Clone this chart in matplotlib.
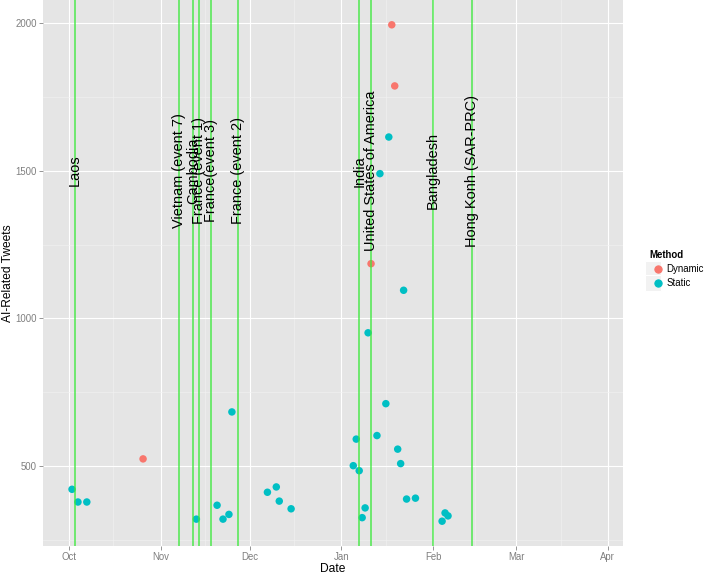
import matplotlib
matplotlib.use("Agg")
import matplotlib.pyplot as plt
import matplotlib.dates as mdates
from matplotlib.lines import Line2D
from matplotlib.legend_handler import HandlerTuple
import pandas as pd

# --------------------------------------------------------------- data

tweet_dates = [
    "2013-10-02", "2013-10-04", "2013-10-07", "2013-10-26", "2013-11-13",
    "2013-11-20", "2013-11-22", "2013-11-24", "2013-11-25", "2013-12-07",
    "2013-12-10", "2013-12-11", "2013-12-15", "2014-01-05", "2014-01-06",
    "2014-01-07", "2014-01-08", "2014-01-09", "2014-01-10", "2014-01-11",
    "2014-01-13", "2014-01-14", "2014-01-16", "2014-01-17", "2014-01-18",
    "2014-01-19", "2014-01-20", "2014-01-21", "2014-01-22", "2014-01-23",
    "2014-01-26", "2014-02-04", "2014-02-05", "2014-02-06",
]
tweet_counts = [
    421, 378, 378, 524, 320,
    367, 320, 336, 683, 411,
    429, 381, 355, 501, 591,
    484, 325, 358, 951, 1185,
    603, 1490, 711, 1614, 1994,
    1787, 557, 508, 1095, 388,
    391, 313, 341, 331,
]
tweet_method = [
    "Static", "Static", "Static", "Dynamic", "Static",
    "Static", "Static", "Static", "Static", "Static",
    "Static", "Static", "Static", "Static", "Static",
    "Static", "Static", "Static", "Static", "Dynamic",
    "Static", "Static", "Static", "Static", "Dynamic",
    "Dynamic", "Static", "Static", "Static", "Static",
    "Static", "Static", "Static", "Static",
]

event_dates = [
    "2013-10-03", "2013-11-07", "2013-11-12", "2013-11-14", "2013-11-18",
    "2013-11-27", "2014-01-07", "2014-01-11", "2014-02-01", "2014-02-14",
]
event_labels = [
    "Laos", "Vietnam (event 7)", "Cambodia", "France (event 1)",
    "France(event 3)", "France (event 2)", "India",
    "United States of America", "Bangladesh", "Hong Konh (SAR-PRC)",
]
label_y = 1500

methods = ["Dynamic", "Static"]
method_colors = {"Dynamic": "#F8766D", "Static": "#00BFC4"}

x_ticks = ["2013-10-01", "2013-11-01", "2013-12-01", "2014-01-01",
           "2014-02-01", "2014-03-01", "2014-04-01"]
x_minor = ["2013-10-16", "2013-11-16", "2013-12-16", "2014-01-16",
           "2014-02-15", "2014-03-16"]
y_ticks = [500, 1000, 1500, 2000]
y_minor = [250, 750, 1250, 1750]

# --------------------------------------------------------------- figure

df = pd.DataFrame({"date": pd.to_datetime(tweet_dates),
                   "tweets": tweet_counts,
                   "method": tweet_method})
events = pd.DataFrame({"date": pd.to_datetime(event_dates),
                       "label": event_labels})

plt.rcParams["font.family"] = ["Liberation Sans", "DejaVu Sans"]

W, H, DPI = 709, 574, 72
fig = plt.figure(figsize=(W / DPI, H / DPI), dpi=DPI)
ax = fig.add_axes([43 / W, (H - 546) / H, (623 - 43) / W, 546 / H])

ax.set_facecolor("#E5E5E5")
for s in ax.spines.values():
    s.set_visible(False)

ax.set_xlim(pd.Timestamp("2013-10-01") - pd.Timedelta(days=8.8),
            pd.Timestamp("2014-04-01") + pd.Timedelta(days=5.1))
ax.set_ylim(229, 2078)

ax.set_xticks(pd.to_datetime(x_ticks))
ax.set_xticks(pd.to_datetime(x_minor), minor=True)
ax.xaxis.set_major_formatter(mdates.DateFormatter("%b"))
ax.set_yticks(y_ticks)
ax.set_yticks(y_minor, minor=True)

ax.grid(True, which="major", color="white", lw=1.1, zorder=0)
ax.grid(True, which="minor", color="#F2F2F2", lw=0.6, zorder=0)
ax.set_axisbelow(True)
ax.tick_params(which="major", length=4, width=0.8, color="#7F7F7F",
               labelcolor="#7F7F7F", labelsize=9.6, pad=2)
ax.tick_params(which="minor", length=0)

for m in methods:
    sub = df[df["method"] == m]
    ax.scatter(sub["date"], sub["tweets"], s=56, color=method_colors[m],
               edgecolors="none", zorder=3)

for _, row in events.iterrows():
    ax.axvline(row["date"], color="#3BE83B", lw=1.5, alpha=0.9, zorder=4)
    ax.text(row["date"], label_y, row["label"], rotation=90,
            ha="center", va="center", fontsize=14.5, color="black", zorder=5)

ax.set_xlabel("Date", fontsize=12, labelpad=1)
ax.set_ylabel("AI-Related Tweets", fontsize=12, labelpad=2)
ax.yaxis.set_label_coords(-29 / (623 - 43), 0.5)

handles = []
for m in methods:
    bg = Line2D([], [], marker="s", markersize=16, color="#F2F2F2",
                markeredgecolor="white", linestyle="none")
    dot = Line2D([], [], marker="o", markersize=7.3, color=method_colors[m],
                 linestyle="none")
    handles.append((bg, dot))
leg = fig.legend(handles, methods, handler_map={tuple: HandlerTuple(ndivide=None)},
                 title="Method", loc="upper left",
                 bbox_to_anchor=(645 / W, 1 - 245 / H), frameon=False,
                 fontsize=9.6, title_fontsize=9.6, handlelength=1.2,
                 handletextpad=0.5, labelspacing=0.45, borderpad=0)
leg.get_title().set_fontweight("bold")
leg._legend_box.align = "left"

fig.savefig("out.png", dpi=DPI)
